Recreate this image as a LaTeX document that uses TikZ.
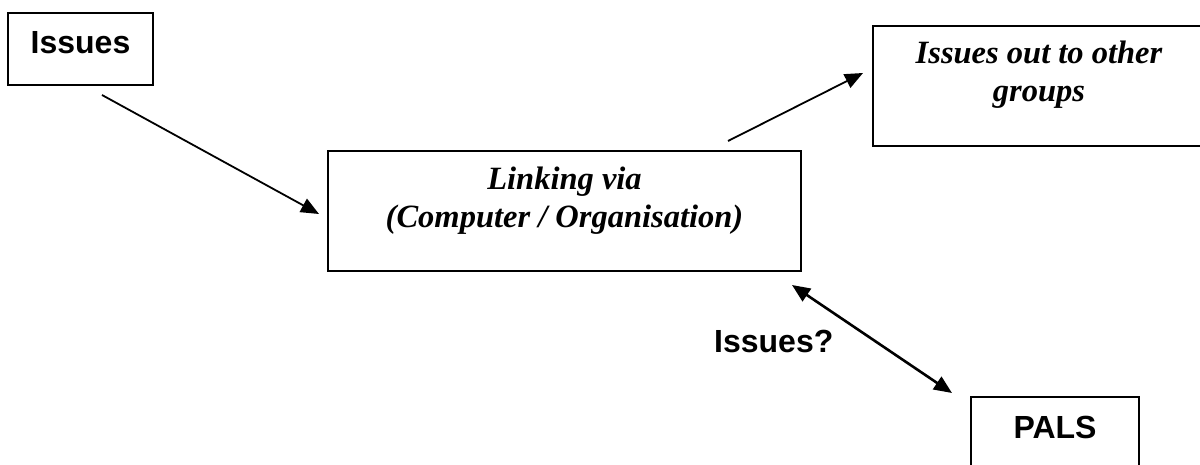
\documentclass[tikz,border=0pt]{standalone}
\usepackage{fontspec}
\setmainfont{Liberation Serif}
\newfontfamily\headfont{Liberation Sans}
\usetikzlibrary{arrows.meta}
\begin{document}
\begin{tikzpicture}[x=1pt,y=-1pt,
  box/.style={draw=black,line width=1.9pt,inner sep=0pt,rectangle},
  plain/.style={font=\headfont\bfseries\fontsize{32}{38}\selectfont,inner sep=0pt,anchor=base},
  fancy/.style={font=\bfseries\itshape\fontsize{32.5}{38}\selectfont,inner sep=0pt,anchor=base,align=center},
  link/.style={line width=1.8pt,-{Triangle[length=18pt,width=15pt]}},
  twoway/.style={line width=2.6pt,{Triangle[length=18pt,width=15pt]}-{Triangle[length=18pt,width=15pt]}}]
  \useasboundingbox (0,0) rectangle (1200,465);
  \clip (0,0) rectangle (1200,465);

  % boxes
  \node[box,minimum width=145pt,minimum height=72pt] (issues) at (80.5,49) {};
  \node[box,minimum width=473pt,minimum height=120pt] (hub) at (564.5,211) {};
  \node[box,minimum width=332pt,minimum height=120pt] (out) at (1039,86) {};
  \node[box,minimum width=168pt,minimum height=72pt] (pals) at (1055,433) {};

  % box texts
  \node[plain] (tIssues) at (80.5,54) {Issues};
  \node[fancy] (tHub1) at (564.5,190) {Linking via};
  \node[fancy] (tHub2) at (564.5,228) {(Computer / Organisation)};
  \node[fancy] (tOut1) at (1039,64) {Issues out to other};
  \node[fancy] (tOut2) at (1039,102) {groups};
  \node[plain] (tPals) at (1055,438) {PALS};
  \node[plain,anchor=base west] (tQ) at (714,352) {Issues?};

  % connector end points
  \coordinate (a0) at (102,95);
  \coordinate (a1) at (319,214);
  \coordinate (b0) at (728,141);
  \coordinate (b1) at (863,73);
  \coordinate (c0) at (792,285);
  \coordinate (c1) at (952,393);

  \draw[link] (a0) -- (a1);
  \draw[link] (b0) -- (b1);
  \draw[twoway] (c0) -- (c1);
\end{tikzpicture}
\end{document}
